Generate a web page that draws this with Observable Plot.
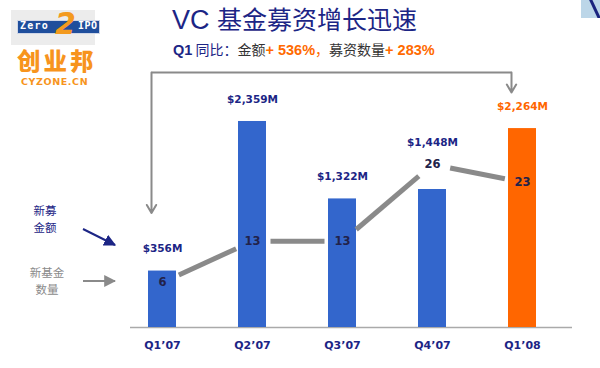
<!DOCTYPE html>
<html>
<head>
<meta charset="utf-8">
<script src="https://cdn.jsdelivr.net/npm/d3@7"></script>
<script src="https://cdn.jsdelivr.net/npm/@observablehq/plot@0.6"></script>
<style>
  html, body { margin: 0; padding: 0; background: #ffffff; }
  #page { position: relative; width: 600px; height: 368px; overflow: hidden; font-family: "Noto Sans CJK SC", "DejaVu Sans", sans-serif; }
  #header { position: relative; height: 62px; }
  #title { position: absolute; left: 172px; top: 3px; font-size: 25px; line-height: 30px; color: #1c2585; white-space: nowrap; font-family: "Noto Sans CJK SC", sans-serif; }
  #title .lat { font-family: "Liberation Sans", Arial, sans-serif; font-size: 27px; }
  #subtitle { position: absolute; left: 173px; top: 39px; font-size: 14px; line-height: 20px; white-space: nowrap; color: #333; font-family: "Noto Sans CJK SC", sans-serif; }
  #subtitle .nv { color: #1c2585; }
  #subtitle .b { font-family: "Liberation Sans", Arial, sans-serif; font-weight: bold; font-size: 14.5px; }
  #subtitle .or { color: #ff6a00; }
  #logo { position: absolute; left: 0; top: 0; width: 110px; height: 90px; }
  #logo .bg { position: absolute; left: 11px; top: 10px; width: 84px; height: 35px; background: #ececec; }
  #logo .bar { position: absolute; left: 17px; top: 20px; width: 83px; height: 14px; background: #1f4e9c; border: 1px solid #cfd6e6; box-sizing: border-box; }
  #logo .zero { position: absolute; left: 20px; top: 20px; color: #fff; font: bold 10px/12px "DejaVu Sans Mono", monospace; letter-spacing: 1.2px; }
  #logo .ipo { position: absolute; left: 78px; top: 20px; color: #fff; font: bold 10px/12px "DejaVu Sans Mono", monospace; letter-spacing: 0.5px; }
  #logo .two { position: absolute; left: 55px; top: 6px; color: #f39a1e; font: italic 900 30px/36px "DejaVu Sans", sans-serif; }
  #logo .cy { position: absolute; left: 17px; top: 47px; color: #f7941d; font: 900 23.5px/26px "Noto Sans CJK SC", sans-serif; letter-spacing: 3px; }
  #logo .cn { position: absolute; left: 21px; top: 77px; color: #f7941d; font: bold 9.5px/10px "DejaVu Sans", sans-serif; letter-spacing: 0.6px; }
  #corner { position: absolute; left: 581px; top: 0; width: 19px; height: 18px; background: #bcd6e8; overflow: hidden; }
  #corner div { position: absolute; left: 12px; top: -4px; width: 3px; height: 24px; background: #1a237e; transform: rotate(-25deg); }
  #chart { position: absolute; left: 0; top: 62px; }
  .note { position: absolute; width: 44px; font-size: 11.5px; line-height: 17px; text-align: center; white-space: nowrap; font-family: "Noto Sans CJK SC", sans-serif; }
  #notes { position: absolute; left: 0; top: 0; }
</style>
</head>
<body>
<div id="page">
  <div id="logo">
    <div class="bg"></div>
    <div class="bar"></div>
    <div class="zero">Zero</div>
    <div class="ipo">IPO</div>
    <div class="two">2</div>
    <div class="cy">创业邦</div>
    <div class="cn">CYZONE.CN</div>
  </div>
  <div id="corner"><div></div></div>
  <div id="header">
    <div id="title"><span class="lat">VC </span>基金募资增长迅速</div>
    <div id="subtitle"><span class="nv"><span class="b">Q1</span> 同比：</span>金额<span class="or b">+ 536%</span><span class="or">，</span>募资数量<span class="or b">+ 283%</span></div>
  </div>
  <div id="chart"></div>
  <div class="note" style="left:23px; top:202px; color:#1c2585;">新募</div>
  <div class="note" style="left:23px; top:219px; color:#1c2585;">金额</div>
  <div class="note" style="left:25px; top:264px; color:#8a8a8a;">新基金</div>
  <div class="note" style="left:25px; top:281px; color:#8a8a8a;">数量</div>
  <svg id="notes" width="600" height="368">
    <defs>
      <marker id="mNavy" viewBox="0 0 10 10" refX="9" refY="5" markerWidth="6" markerHeight="6" orient="auto"><path d="M0,0 L10,5 L0,10 z" fill="#1c2585"/></marker>
      <marker id="mGrey" viewBox="0 0 10 10" refX="9" refY="5" markerWidth="6" markerHeight="6" orient="auto"><path d="M0,0 L10,5 L0,10 z" fill="#8a8a8a"/></marker>
    </defs>
    <line x1="83" y1="229" x2="115" y2="245" stroke="#1c2585" stroke-width="2" marker-end="url(#mNavy)"/>
    <line x1="83" y1="281" x2="115" y2="281" stroke="#8a8a8a" stroke-width="2" marker-end="url(#mGrey)"/>
  </svg>
</div>
<script>
// ---- data ----
const quarters = ["Q1’07", "Q2’07", "Q3’07", "Q4’07", "Q1’08"];
const amounts = [356, 2359, 1322, 1448, 2264];          // new funds raised, US$M
const amountLabels = ["$356M", "$2,359M", "$1,322M", "$1,448M", "$2,264M"];
const fundCounts = [6, 13, 13, 26, 23];                  // number of new funds
const highlight = [false, false, false, false, true];    // latest quarter

// ---- scales ----
const yMin = -400, yMax = 3015;   // amount axis (bars rise from the axis floor)
// secondary axis for fund counts, expressed in amount units
const countToY = d3.scaleLinear().domain([0, 30]).range([-271, -271 + 79 * 30]);

const rows = quarters.map((q, i) => ({
  q, amount: amounts[i], label: amountLabels[i], count: fundCounts[i],
  cy: countToY(fundCounts[i]), hi: highlight[i]
}));
const segs = rows.slice(1).map((d, i) => ({ q1: rows[i].q, y1: rows[i].cy, q2: d.q, y2: d.cy }));

const navy = "#1c2585", blue = "#3366cc", orange = "#ff6600", grey = "#8a8a8a";

const chart = Plot.plot({
  width: 600,
  height: 306,
  marginLeft: 116,
  marginRight: 32,
  marginTop: 10,
  marginBottom: 41,
  style: { background: "transparent", fontFamily: "'DejaVu Sans', sans-serif", overflow: "visible" },
  x: { domain: quarters, paddingInner: 0.69, paddingOuter: 0.345, label: null },
  y: { domain: [yMin, yMax], axis: null },
  marks: [
    Plot.ruleY([yMin], { stroke: "#aaaaaa", strokeWidth: 1.5, insetLeft: 14, insetRight: -4 }),
    Plot.barY(rows, { x: "q", y1: yMin, y2: "amount", fill: d => d.hi ? orange : blue }),
    // bracket comparing Q1'07 with Q1'08
    Plot.link([{ a: quarters[0], b: quarters[4] }], { x1: "a", x2: "b", y1: yMax, y2: yMax, dx: -11, stroke: grey, strokeWidth: 2 }),
    Plot.arrow([rows[0]], { x1: "q", x2: "q", y1: yMax, y2: "amount", dx: -11, insetEnd: 58, stroke: grey, strokeWidth: 2, headLength: 7 }),
    Plot.arrow([rows[4]], { x1: "q", x2: "q", y1: yMax, y2: "amount", dx: -11, insetEnd: 36, stroke: grey, strokeWidth: 2, headLength: 7 }),
    // fund-count line
    Plot.arrow(segs, { x1: "q1", y1: "y1", x2: "q2", y2: "y2", stroke: grey, strokeWidth: 5, headLength: 0, insetStart: 18, insetEnd: 18, strokeLinecap: "butt" }),
    Plot.text(rows, { x: "q", y: "cy", text: d => String(d.count), fill: "#22224a", fontSize: 11.5, fontWeight: "bold" }),
    // amount labels sit above the bar, or above the count point when that is higher
    Plot.text(rows, { x: "q", y: d => Math.max(d.amount, d.cy), text: "label", dy: -22, fill: d => d.hi ? orange : navy, fontSize: 10.5, fontWeight: "bold" }),
    Plot.axisX({ tickSize: 0, tickPadding: 14, fontSize: 11, fontWeight: "bold", fill: navy, label: null })
  ]
});
document.getElementById("chart").appendChild(chart);
</script>
</body>
</html>
